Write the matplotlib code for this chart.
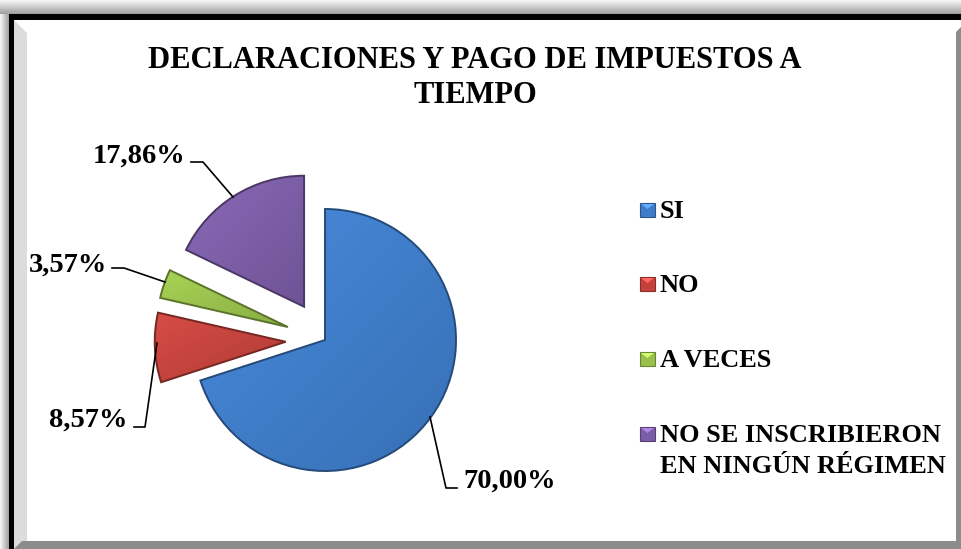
import numpy as np
import matplotlib.pyplot as plt
from matplotlib.patches import Rectangle, Polygon, PathPatch
from matplotlib.colors import to_rgb

# data
categories = ['SI', 'NO', 'A VECES', 'NO SE INSCRIBIERON\nEN NINGÚN RÉGIMEN']
percent = [70.00, 8.57, 3.57, 17.86]
explode = [0.0, 0.3, 0.3, 0.3]
colors = ['#3D7CC9', '#C4413B', '#98C04A', '#7B5CA6']
title = 'DECLARACIONES Y PAGO DE IMPUESTOS A\nTIEMPO'

FONT = 'Liberation Serif'
W, H = 961, 549

fig = plt.figure(figsize=(W / 100, H / 100), dpi=100)
ax = fig.add_axes([0, 0, 1, 1])

# pie in pixel coords (y axis inverted -> counterclock gives clockwise on screen)
cx, cy, rad = 325, 340, 131
wedges, _ = ax.pie(percent, explode=[e * rad for e in explode], colors=colors,
                   startangle=-90, counterclock=True, center=(cx, cy), radius=rad,
                   wedgeprops=dict(linewidth=0))
ax.set_xlim(0, W)
ax.set_ylim(H, 0)
ax.set_aspect('equal')
ax.axis('off')

# fake bevel: soft diagonal gradient clipped to each wedge + darker rim
g = np.linspace(0, 1, 200)
gx, gy = np.meshgrid(g, g)
t = (gx + gy) / 2.0
inv = ax.transData.inverted()
for w, c in zip(wedges, colors):
    base = np.array(to_rgb(c))
    light = np.clip(base * 1.06 + 0.03, 0, 1)
    dark = base * 0.9
    img = light[None, None, :] * (1 - t[..., None]) + dark[None, None, :] * t[..., None]
    bb = w.get_path().get_extents(w.get_transform())
    (x0, y0), (x1, y1) = inv.transform([[bb.x0, bb.y0], [bb.x1, bb.y1]])
    im = ax.imshow(img, extent=(min(x0, x1), max(x0, x1), max(y0, y1), min(y0, y1)),
                   origin='upper', zorder=w.get_zorder() + 0.1, interpolation='bilinear')
    im.set_clip_path(w)
    rim = PathPatch(w.get_path(), transform=w.get_transform(), fill=False,
                    edgecolor=tuple(base * 0.6), lw=1.4, zorder=w.get_zorder() + 0.2)
    ax.add_patch(rim)
ax.set_xlim(0, W)
ax.set_ylim(H, 0)

# percentage labels + leader lines
lab_xy = [(463, 488), (127, 427), (107, 272), (185, 163)]
lab_ha = ['left', 'right', 'right', 'right']
leaders = [
    [(430, 417), (446, 488), (457, 488)],
    [(157, 343), (145, 427), (134, 427)],
    [(165, 282), (124, 268), (112, 268)],
    [(233, 197), (203, 162), (191, 162)],
]
for p, (lx, ly), ha, ld in zip(percent, lab_xy, lab_ha, leaders):
    ax.text(lx, ly, f'{p:.2f}%'.replace('.', ','), ha=ha, va='baseline',
            fontsize=20.5, fontweight='bold', family=FONT, zorder=10)
    xs, ys = zip(*ld)
    ax.plot(xs, ys, color='black', lw=1.2, zorder=9)

# title
t1, t2 = title.split('\n')
ax.text(475, 68, t1, ha='center', va='baseline', fontsize=22, fontweight='bold', family=FONT)
ax.text(475, 103, t2, ha='center', va='baseline', fontsize=22, fontweight='bold', family=FONT)

# legend (drawn by hand so the two-line entry keeps its box on the first line)
leg_y = [218, 292, 367, 442]
for cat, c, yb in zip(categories, colors, leg_y):
    base = np.array(to_rgb(c))
    ax.add_patch(Rectangle((640, yb - 15), 15, 14, facecolor=c,
                           edgecolor=tuple(base * 0.7), lw=0.8, zorder=5))
    ax.add_patch(Polygon([(641, yb - 14), (654, yb - 14), (647.5, yb - 9)], closed=True,
                         facecolor=tuple(np.clip(base * 1.2 + 0.1, 0, 1)), lw=0, zorder=6))
    for k, line in enumerate(cat.split('\n')):
        ax.text(660, yb + 31 * k, line, ha='left', va='baseline', fontsize=19,
                fontweight='bold', family=FONT)

# chart frame: shadow, black outline, bevel
sh = np.linspace(0.97, 0.62, 50)
ax.imshow(np.tile(sh[:, None], (1, 10)), cmap='gray', vmin=0, vmax=1,
          extent=(0, W, 14, 0), aspect='auto', zorder=1)
ax.imshow(np.tile(sh[None, :], (10, 1)), cmap='gray', vmin=0, vmax=1,
          extent=(0, 9, H, 14), aspect='auto', zorder=1)
ax.add_patch(Rectangle((9, 14), W - 9, 6, facecolor='black', lw=0, zorder=2))
ax.add_patch(Rectangle((9, 14), 5, H - 14, facecolor='black', lw=0, zorder=2))
ax.add_patch(Polygon([(14, 20), (27, 33), (27, 541), (14, 549)], closed=True,
                     facecolor='#DCDCDC', lw=0, zorder=2))
ax.add_patch(Polygon([(14, 549), (22, 541), (W, 541), (W, 549)], closed=True,
                     facecolor='#8C8C8C', lw=0, zorder=2))
ax.add_patch(Polygon([(956, 32), (W, 27), (W, 549), (956, 541)], closed=True,
                     facecolor='#8C8C8C', lw=0, zorder=2))
ax.set_xlim(0, W)
ax.set_ylim(H, 0)

fig.savefig('out.png', dpi=100)
